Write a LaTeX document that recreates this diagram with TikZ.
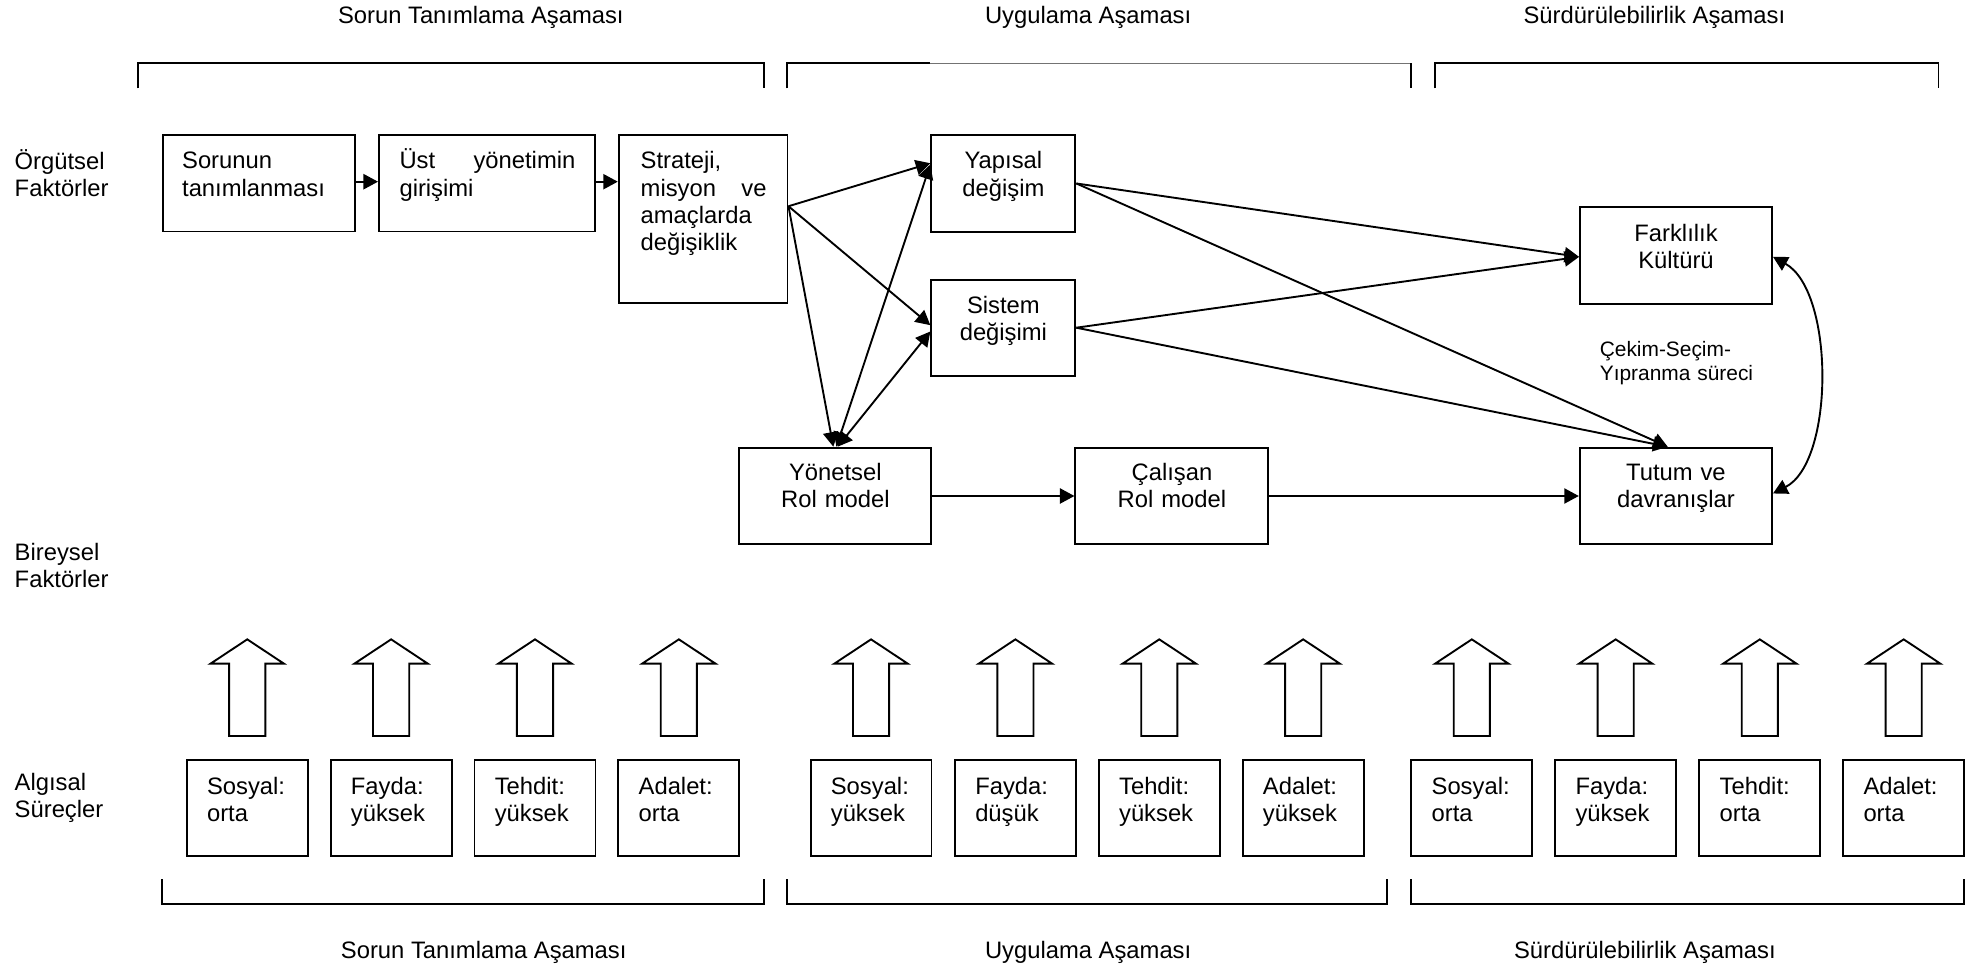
\documentclass[tikz,border=0pt]{standalone}
\usepackage{fontspec}
\setmainfont{Liberation Sans}
\usetikzlibrary{arrows.meta,fit,calc}
\hyphenpenalty=10000
\exhyphenpenalty=10000
\tolerance=10000
\hbadness=10000
\setlength{\parindent}{0pt}
\begin{document}
\begin{tikzpicture}[x=0.02cm,y=-0.02cm,
  lw/.style={line width=0.85pt},
  box/.style={draw,lw,inner sep=0pt},
  txt/.style={inner sep=0pt,font=\fontsize{10.7}{12.2}\selectfont},
  ctxt/.style={txt,anchor=base,text width=2.2cm,align=center},
  ltxt/.style={txt,anchor=base west,text width=#1,align=left},
  jtxt/.style={txt,anchor=base west,text width=#1,align=justify},
  smalltxt/.style={inner sep=0pt,font=\fontsize{9.4}{10.8}\selectfont,anchor=base west,text width=2.8cm,align=left},
  conn/.style={lw,-{Triangle[length=0.23cm,width=0.24cm]}},
  biconn/.style={lw,{Triangle[length=0.23cm,width=0.24cm]}-{Triangle[length=0.23cm,width=0.24cm]}},
  brk/.style={lw,line join=miter},
  blk/.style={lw,fill=white,line join=miter},
]
\useasboundingbox (0,0) rectangle (1568,766);

% phase titles
\node[txt,anchor=base] (h1) at (380,18.5) {Sorun Tanımlama Aşaması};
\node[txt,anchor=base] (h2) at (860,18.5) {Uygulama Aşaması};
\node[txt,anchor=base] (h3) at (1307.5,18.5) {Sürdürülebilirlik Aşaması};
\node[txt,anchor=base] (f1) at (382.3,757.5) {Sorun Tanımlama Aşaması};
\node[txt,anchor=base] (f2) at (860,757.5) {Uygulama Aşaması};
\node[txt,anchor=base] (f3) at (1300,757.5) {Sürdürülebilirlik Aşaması};

% brackets
\draw[brk] (108.9,69.8) -- (108.9,50) -- (603.6,50) -- (603.6,69.8);
\draw[brk] (621.8,69.8) -- (621.8,50) -- (734.7,50);
\draw[line width=0.5pt,black!55] (734.7,50) -- (1115.1,50);
\draw[brk] (1115.1,50) -- (1115.1,69.8);
\draw[brk] (1134.1,69.8) -- (1134.1,50) -- (1532,50) -- (1532,69.8);
\draw[brk] (128.2,694.7) -- (128.2,714.5) -- (603.6,714.5) -- (603.6,694.7);
\draw[brk] (622.3,694.7) -- (622.3,714.5) -- (1096.3,714.5) -- (1096.3,694.7);
\draw[brk] (1115.4,694.7) -- (1115.4,714.5) -- (1551.9,714.5) -- (1551.9,694.7);

% left labels
\node[ltxt=2.2cm] (l1) at (11.3,133.8) {Örgütsel\\Faktörler};
\node[ltxt=2.2cm] (l2) at (11.3,443) {Bireysel\\Faktörler};
\node[ltxt=2.2cm] (l3) at (11.3,625) {Algısal\\Süreçler};

% top row
\node[box,fit={(128.6,107)(280.6,183)}] (b1) {};
\node[ltxt=2.42cm] (t1) at (143.6,133.5) {Sorunun tanımlanması};
\node[box,fit={(299.5,107)(470.3,183)}] (b2) {};
\node[jtxt=2.78cm] (t2) at (315.4,133.5) {Üst yönetimin girişimi};
\node[box,fit={(489,107)(622.4,239.7)}] (b3) {};
\node[jtxt=1.99cm] (t3) at (506,133.5) {Strateji, misyon ve amaçlarda değişiklik};

\node[box,fit={(736,107)(849.9,183.1)}] (yap) {};
\node[ctxt] (tyap) at (793,133.5) {Yapısal\\değişim};
\node[box,fit={(736,221.3)(849.9,297.2)}] (sis) {};
\node[ctxt] (tsis) at (793,247.5) {Sistem\\değişimi};
\node[box,fit={(584.3,353.8)(736,430)}] (yon) {};
\node[ctxt] (tyon) at (660.2,380) {Yönetsel\\Rol model};
\node[box,fit={(849.9,353.8)(1002.4,430)}] (cal) {};
\node[ctxt] (tcal) at (926.2,380) {Çalışan\\Rol model};
\node[box,fit={(1248.7,163.9)(1400.5,240.3)}] (far) {};
\node[ctxt] (tfar) at (1324.6,190.5) {Farklılık\\Kültürü};
\node[box,fit={(1248.5,353.8)(1400.5,429.6)}] (tut) {};
\node[ctxt] (ttut) at (1324.5,380) {Tutum ve\\davranışlar};
\node[smalltxt] (cek) at (1264,282) {Çekim-Seçim-\\Yıpranma süreci};

% connectors
\draw[conn] (b1.east |- 0,143.6) -- (b2.west |- 0,143.6);
\draw[conn] (b2.east |- 0,143.6) -- (b3.west |- 0,143.6);
\draw[conn] (b3.east |- 0,163) -- (yap.west |- 0,129);
\draw[conn] (b3.east |- 0,163) -- (sis.west |- 0,257);
\draw[conn] (b3.east |- 0,163) -- (yon.north -| 658.6,0);
\draw[biconn] (yon.north -| 661,0) -- (yap.west |- 0,130);
\draw[biconn] (yon.north -| 662,0) -- (sis.west |- 0,262);
\draw[conn] (yon.east |- 0,392) -- (cal.west |- 0,392);
\draw[conn] (cal.east |- 0,392) -- (tut.west |- 0,392);
\draw[conn] (yap.east |- 0,145) -- (far.west |- 0,203);
\draw[conn] (sis.east |- 0,259) -- (far.west |- 0,203);
\draw[conn] (yap.east |- 0,145) -- (tut.north -| 1318,0);
\draw[conn] (sis.east |- 0,259) -- (tut.north -| 1318,0);
\draw[biconn] (far.east |- 0,203) .. controls (1450,230) and (1450,365) .. (tut.east |- 0,390);

% perception boxes and block arrows
\foreach \xl/\ta/\tb [count=\i] in {147.6/Sosyal:/orta, 261.3/Fayda:/yüksek, 375/Tehdit:/yüksek, 488.7/Adalet:/orta, 640.6/Sosyal:/yüksek, 754.7/Fayda:/düşük, 868.4/Tehdit:/yüksek, 982.1/Adalet:/yüksek, 1115.4/Sosyal:/orta, 1229.1/Fayda:/yüksek, 1343/Tehdit:/orta, 1456.7/Adalet:/orta}{
  \pgfmathsetmacro\xr{\xl+95.6}
  \pgfmathsetmacro\cx{\xl+47.8}
  \node[box,fit={(\xl,600.3)(\xr,676.8)}] (s\i) {};
  \node[ltxt=1.6cm] (st\i) at (\xl+15.7,627.7) {\ta\\\tb};
  \draw[blk] (\cx,505.3) -- (\cx+29,524.5) -- (\cx+14.3,524.5) -- (\cx+14.3,581.7)
     -- (\cx-14.3,581.7) -- (\cx-14.3,524.5) -- (\cx-29,524.5) -- cycle;
}
\end{tikzpicture}
\end{document}
